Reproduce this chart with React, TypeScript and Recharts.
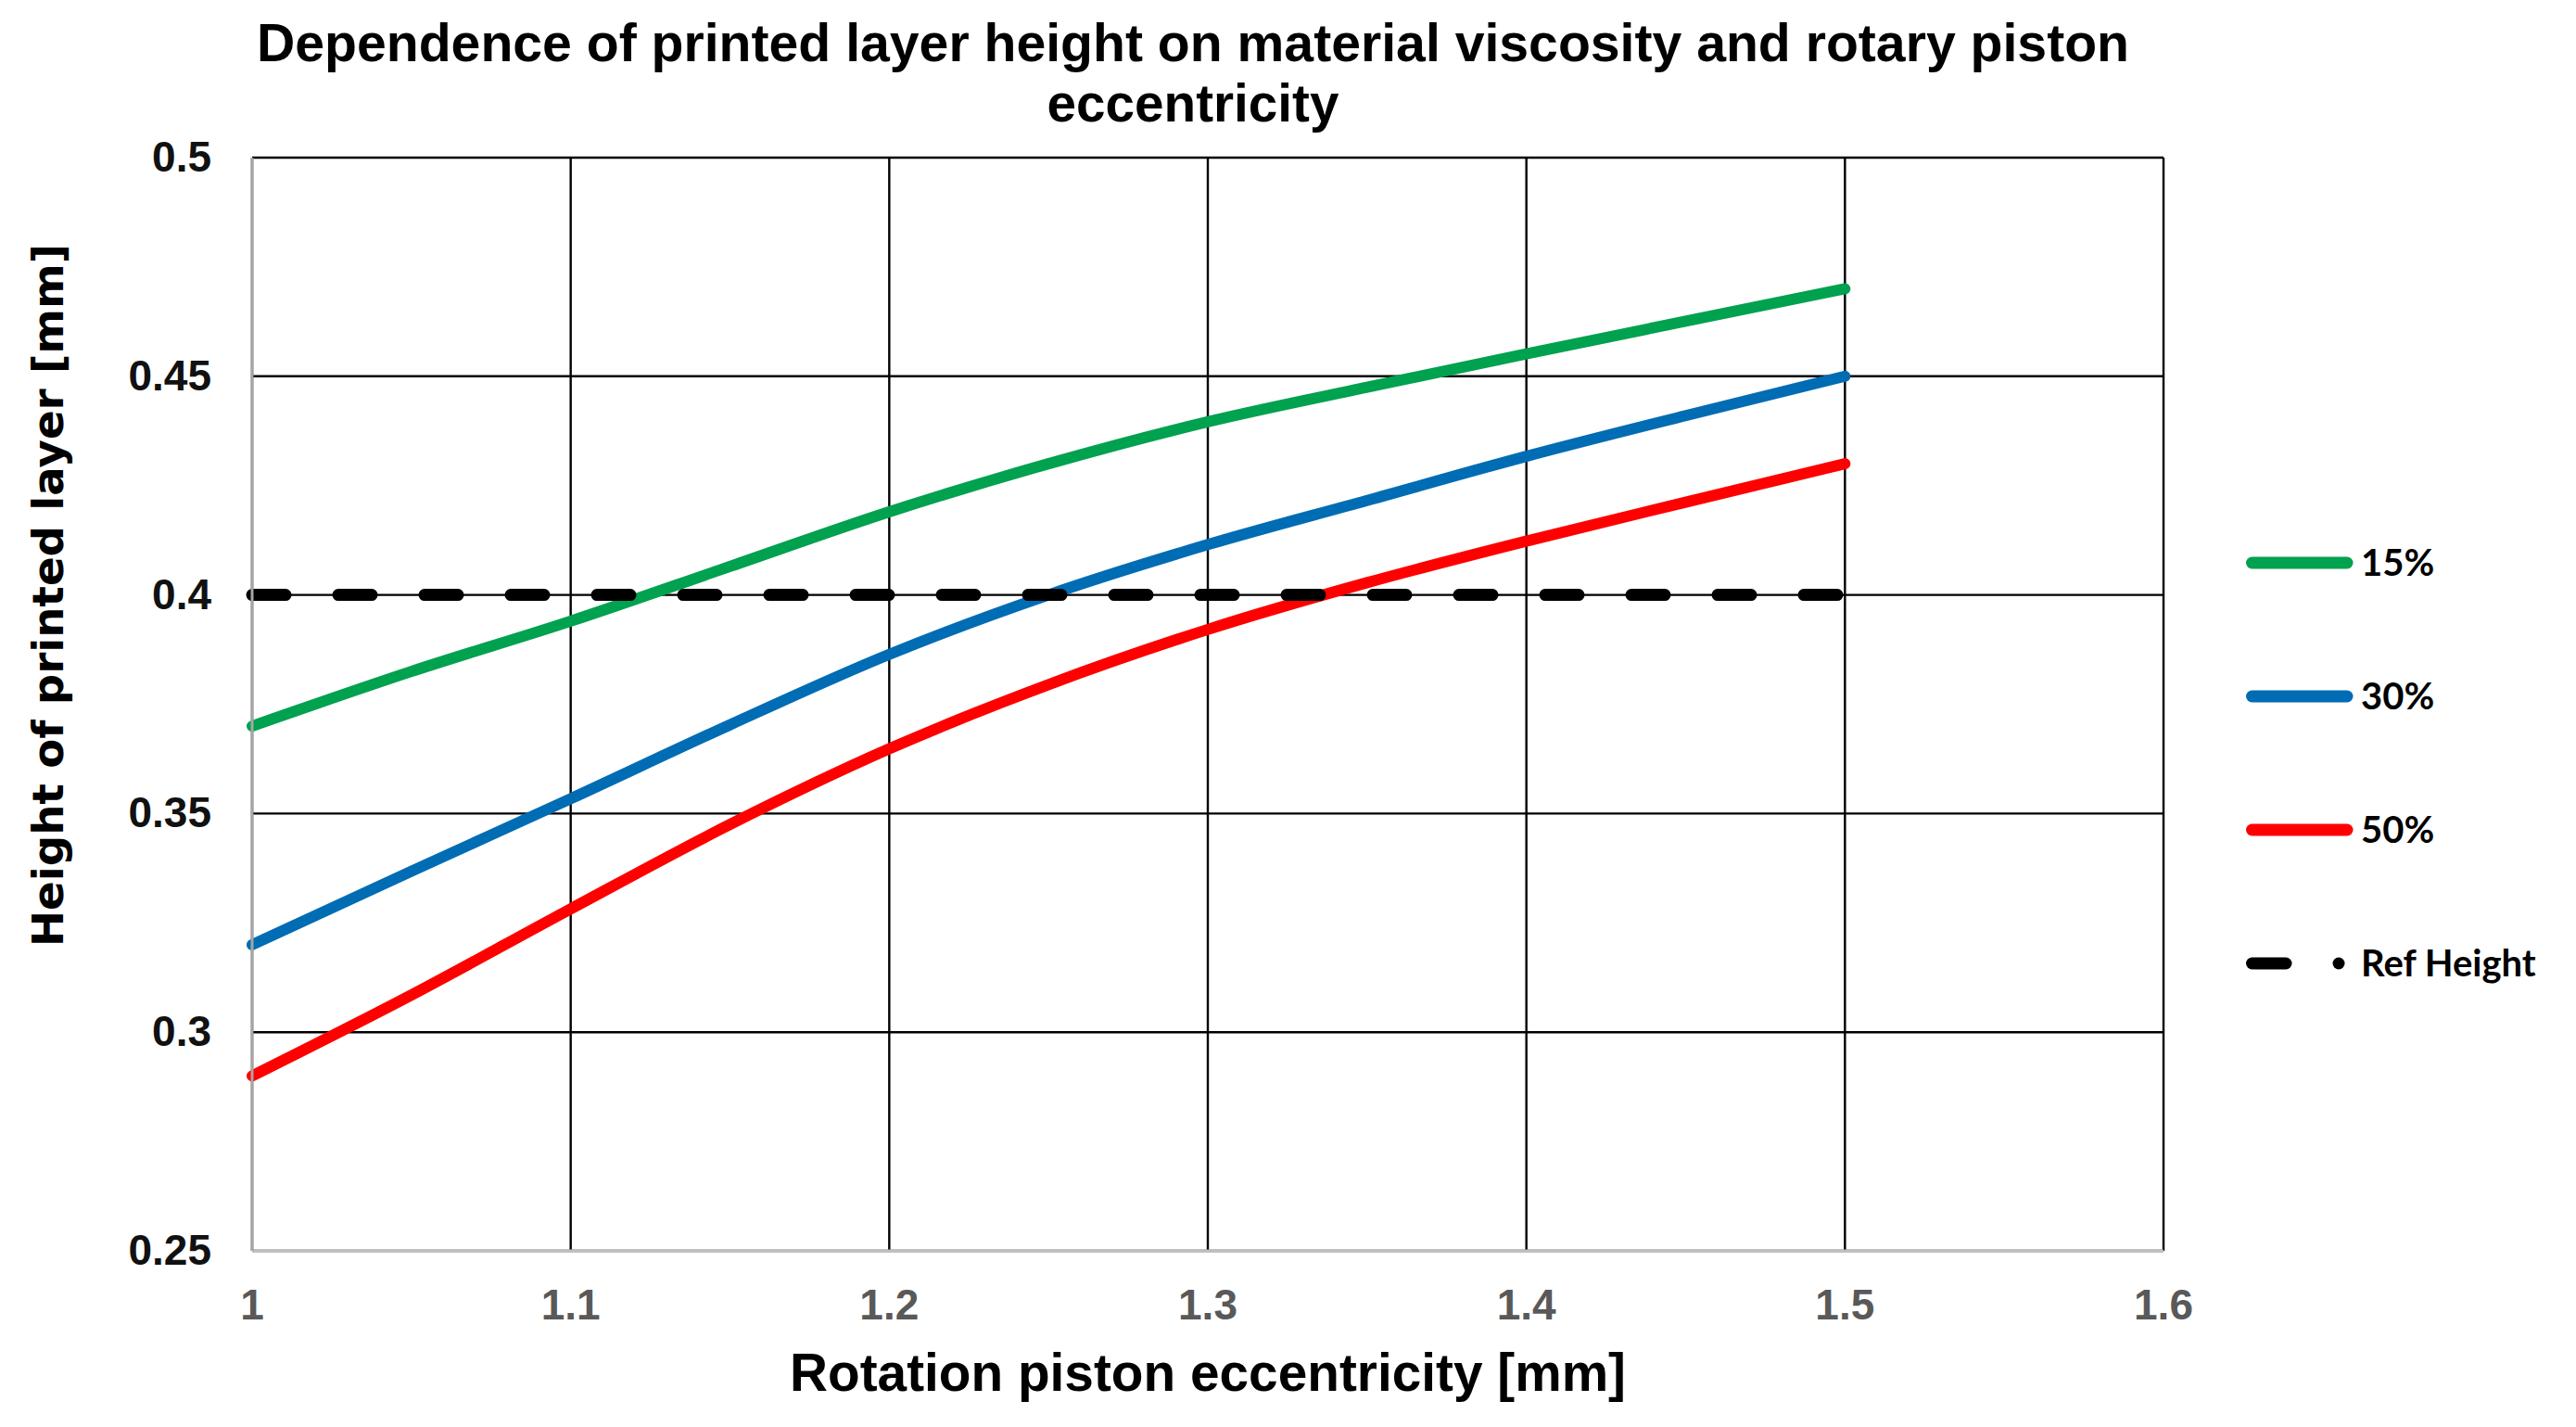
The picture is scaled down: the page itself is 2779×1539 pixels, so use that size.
import { CartesianGrid, Line, LineChart, XAxis, YAxis } from "recharts";

const W = 2779;
const H = 1539;

// eccentricity [mm] and printed layer height [mm] per viscosity series
const eccentricity = [1, 1.05, 1.1, 1.15, 1.2, 1.25, 1.3, 1.35, 1.4, 1.45, 1.5];
const height15 = [0.37, 0.3825, 0.394, 0.4065, 0.419, 0.43, 0.4396, 0.4475, 0.4551, 0.4626, 0.47];
const height30 = [0.32, 0.3368, 0.3534, 0.3703, 0.3864, 0.4, 0.4115, 0.4216, 0.4317, 0.441, 0.45];
const height50 = [0.29, 0.3085, 0.3282, 0.3475, 0.3648, 0.3795, 0.3921, 0.4028, 0.4123, 0.4212, 0.43];
const refHeight = [0.4, 0.4, 0.4, 0.4, 0.4, 0.4, 0.4, 0.4, 0.4, 0.4, 0.4];

const xTicks = [1, 1.1, 1.2, 1.3, 1.4, 1.5, 1.6];
const yTicks = [0.25, 0.3, 0.35, 0.4, 0.45, 0.5];

const series = [
  { key: "h15", name: "15%", color: "#00a14f", dashed: false },
  { key: "h30", name: "30%", color: "#006cb4", dashed: false },
  { key: "h50", name: "50%", color: "#ff0000", dashed: false },
  { key: "ref", name: "Ref Height", color: "#000000", dashed: true },
];

const data = eccentricity.map((x, i) => ({
  x,
  h15: height15[i],
  h30: height30[i],
  h50: height50[i],
  ref: refHeight[i],
}));

const arial = "'Liberation Sans', Arial, sans-serif";
const dash = "36 57";

function XTick({ x, y, payload }: any) {
  return (
    <text x={x} y={y} dy={74} textAnchor="middle" fontFamily={arial} fontWeight={700} fontSize={46} fill="#595959">
      {String(payload.value)}
    </text>
  );
}

function YTick({ x, y, payload }: any) {
  return (
    <text x={x - 44} y={y} dy={15} textAnchor="end" fontFamily={arial} fontWeight={700} fontSize={46} fill="#111">
      {String(payload.value)}
    </text>
  );
}

function Overlay() {
  return (
    <svg width={W} height={H} style={{ position: "absolute", left: 0, top: 0, pointerEvents: "none" }}>
      <g fontFamily={arial} fontWeight={700} fill="#000">
        <text x={1287} y={66} fontSize={57} textAnchor="middle" textLength={2020} lengthAdjust="spacingAndGlyphs">
          Dependence of printed layer height on material viscosity and rotary piston
        </text>
        <text x={1287} y={131} fontSize={57} textAnchor="middle" textLength={315} lengthAdjust="spacingAndGlyphs">
          eccentricity
        </text>
        <text x={1303} y={1500} fontSize={58} textAnchor="middle" textLength={902} lengthAdjust="spacingAndGlyphs">
          Rotation piston eccentricity [mm]
        </text>
      </g>
      <text
        transform="translate(68 642) rotate(-90)"
        textAnchor="middle"
        fontFamily="'DejaVu Sans', sans-serif"
        fontWeight={700}
        fontSize={47}
        textLength={758}
        lengthAdjust="spacingAndGlyphs"
        fill="#000"
      >
        Height of printed layer [mm]
      </text>
      {series.map((s, i) => {
        const cy = 607 + i * 144;
        return (
          <g key={s.key}>
            {s.dashed ? (
              <>
                <line x1={2429.5} x2={2466} y1={cy} y2={cy} stroke={s.color} strokeWidth={13} strokeLinecap="round" />
                <circle cx={2523} cy={cy} r={6.5} fill={s.color} />
              </>
            ) : (
              <line x1={2429.5} x2={2532} y1={cy} y2={cy} stroke={s.color} strokeWidth={13} strokeLinecap="round" />
            )}
            <text x={2547} y={cy + 14} fontFamily="Lato, 'Open Sans', sans-serif" fontWeight={700} fontSize={40} fill="#000">
              {s.name}
            </text>
          </g>
        );
      })}
    </svg>
  );
}

export default function App() {
  return (
    <div style={{ position: "absolute", left: 0, top: 0, width: W, height: H, background: "#fff" }}>
      <LineChart width={W} height={H} data={data} margin={{ top: 170, right: 445, left: 172, bottom: 90 }}>
        <CartesianGrid stroke="#000" strokeWidth={2.4} />
        <XAxis
          type="number"
          dataKey="x"
          domain={[1, 1.6]}
          ticks={xTicks}
          height={100}
          tickSize={0}
          tickMargin={0}
          tickLine={false}
          axisLine={{ stroke: "#bfbfbf", strokeWidth: 3 }}
          tick={<XTick />}
          interval={0}
        />
        <YAxis
          type="number"
          domain={[0.25, 0.5]}
          ticks={yTicks}
          width={100}
          tickSize={0}
          tickMargin={0}
          tickLine={false}
          axisLine={{ stroke: "#a6a6a6", strokeWidth: 3 }}
          tick={<YTick />}
          interval={0}
        />
        {series.map((s) => (
          <Line
            key={s.key}
            type="monotone"
            dataKey={s.key}
            name={s.name}
            stroke={s.color}
            strokeWidth={s.dashed ? 13 : 12}
            strokeDasharray={s.dashed ? dash : undefined}
            strokeLinecap="round"
            dot={false}
            activeDot={false}
            isAnimationActive={false}
          />
        ))}
      </LineChart>
      <Overlay />
    </div>
  );
}
